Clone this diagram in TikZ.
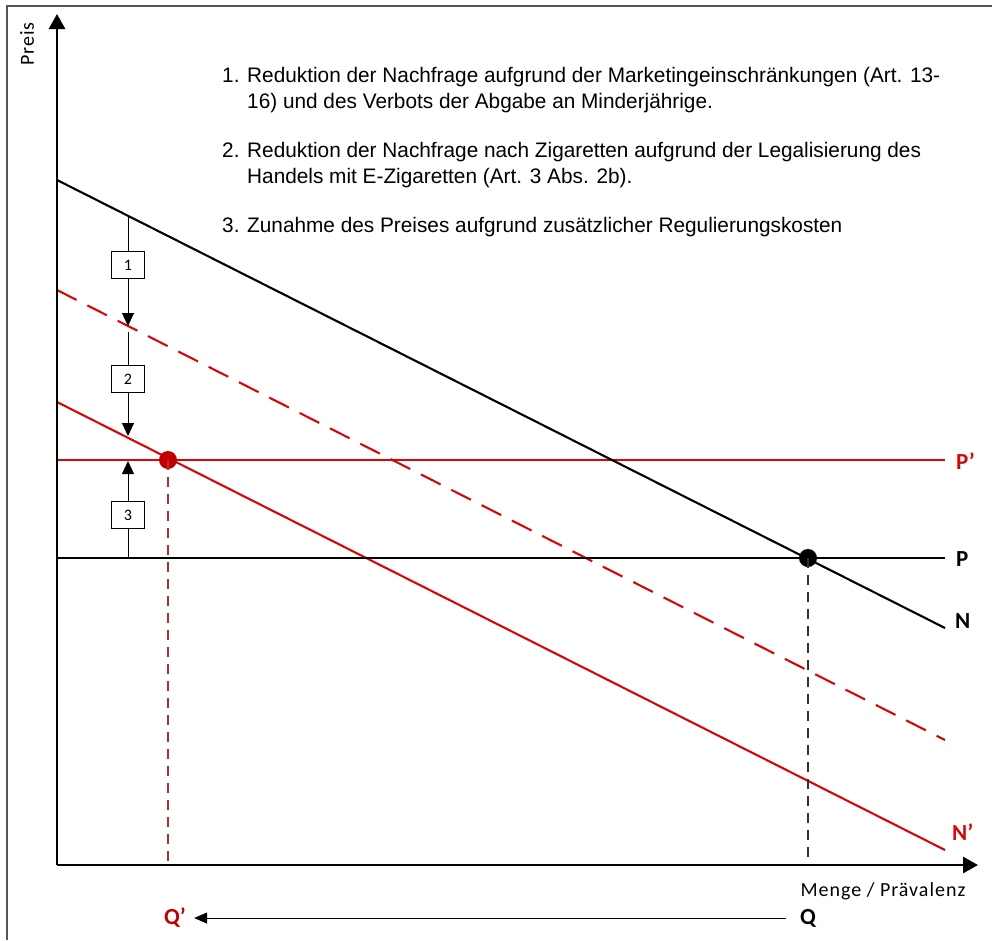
\documentclass[tikz,border=0pt]{standalone}
\usepackage{fontspec}
\setmainfont{Liberation Sans}
\newfontfamily\narrowfont[FakeStretch=0.99]{Liberation Sans}
\newfontfamily\calfont{Carlito}
\newfontfamily\calspaced[LetterSpace=5]{Carlito}
\usetikzlibrary{arrows.meta}
\definecolor{cred}{RGB}{212,8,8}
\definecolor{dred}{RGB}{192,0,0}
\definecolor{bred}{RGB}{180,45,45}
\definecolor{frame}{RGB}{85,85,85}
\begin{document}
\begin{tikzpicture}[x=1pt,y=-1pt,
  axis/.style={line width=2.8pt,-{Triangle[width=16pt,length=15pt]}},
  curve/.style={line width=2.1pt},
  shiftarrow/.style={line width=1pt,-{Triangle[width=12pt,length=13pt]}},
  numbox/.style={draw,line width=1pt,fill=white,minimum width=33pt,minimum height=27pt,inner sep=0pt,font=\calfont\fontsize{16}{16}\selectfont},
  txt/.style={anchor=base west,inner sep=0pt,font=\narrowfont\fontsize{21}{24}\selectfont},
  lbl/.style={anchor=west,inner sep=0pt,font=\calfont\bfseries\fontsize{23}{23}\selectfont},
  axlbl/.style={inner sep=0pt,font=\calspaced\fontsize{20}{20}\selectfont},
  dot/.style={circle,inner sep=0pt,minimum size=18pt}
]
\useasboundingbox (0,0) rectangle (992,940);
% frame
\draw[frame,line width=1.5pt] (992,6) -- (7,6) -- (7,940);

% coordinates
\coordinate (O) at (57,865);
\coordinate (ytop) at (57,14);
\coordinate (xend) at (978,865);
\coordinate (Ns) at (57,180);   \coordinate (Ne) at (945,628);
\coordinate (Ds) at (57,290);   \coordinate (De) at (945,740);
\coordinate (NPs) at (57,402);  \coordinate (NPe) at (945,850);
\coordinate (PPs) at (57,460);  \coordinate (PPe) at (945,460);
\coordinate (Ps) at (57,558);   \coordinate (Pe) at (945,558);
\coordinate (QPbot) at (168,865);
\coordinate (Qbot) at (808,865);

% curves
\draw[curve,cred,dash pattern=on 22pt off 12pt] (Ds) -- (De);
\draw[curve,cred] (NPs) -- (NPe);
\draw[curve,cred] (PPs) -- (PPe);
\draw[curve,black] (Ps) -- (Pe);
\draw[curve,black] (Ns) -- (Ne);

% equilibrium points
\node[dot,fill=black] (E) at (808,558) {};
\node[dot,fill=dred] (EP) at (168,460) {};
\draw[line width=1.5pt,bred,dash pattern=on 10pt off 7pt] (EP.center) -- (QPbot);
\draw[line width=1.5pt,black!80,dash pattern=on 10pt off 7pt] (E.center) -- (Qbot);

% axes
\draw[axis] (O) -- (ytop);
\draw[axis] (O) -- (xend);
\node[axlbl,rotate=90] (preis) at (27,44) {Preis};
\node[axlbl] (menge) at (883,891) {Menge / Prävalenz};

% shift arrows
\coordinate (a1s) at (128,216); \coordinate (a1e) at (128,326);
\coordinate (a2s) at (128,332); \coordinate (a2e) at (128,436);
\coordinate (a3s) at (128,558); \coordinate (a3e) at (128,461);
\draw[shiftarrow] (a1s) -- (a1e);
\draw[shiftarrow] (a2s) -- (a2e);
\draw[shiftarrow] (a3s) -- (a3e);
\node[numbox] (b1) at (128,265) {1};
\node[numbox] (b2) at (128,379) {2};
\node[numbox] (b3) at (128,515) {3};

% right labels
\node[lbl,text=cred] (lPP) at (956,461) {P’};
\node[lbl] (lP) at (956,559) {P};
\node[lbl] (lN) at (955,621) {N};
\node[lbl,text=cred] (lNP) at (952,832) {N’};

% Q arrow
\node[lbl,anchor=center,text=dred] (QP) at (175,918) {Q’};
\node[lbl,anchor=center] (Q) at (808,918) {Q};
\draw[line width=1pt,-{Triangle[width=11pt,length=13pt]}] (Q.west) ++(-14,0) -- ([xshift=8pt]QP.east);

% explanatory text
\node[txt] (t1) at (222,82) {1. Reduktion der Nachfrage aufgrund der Marketingeinschränkungen (Art. 13-};
\node[txt] (t2) at (247,108) {16) und des Verbots der Abgabe an Minderjährige.};
\node[txt] (t3) at (222,157) {2. Reduktion der Nachfrage nach Zigaretten aufgrund der Legalisierung des};
\node[txt] (t4) at (247,183) {Handels mit E-Zigaretten (Art. 3 Abs. 2b).};
\node[txt] (t5) at (222,232) {3. Zunahme des Preises aufgrund zusätzlicher Regulierungskosten};
\end{tikzpicture}
\end{document}
